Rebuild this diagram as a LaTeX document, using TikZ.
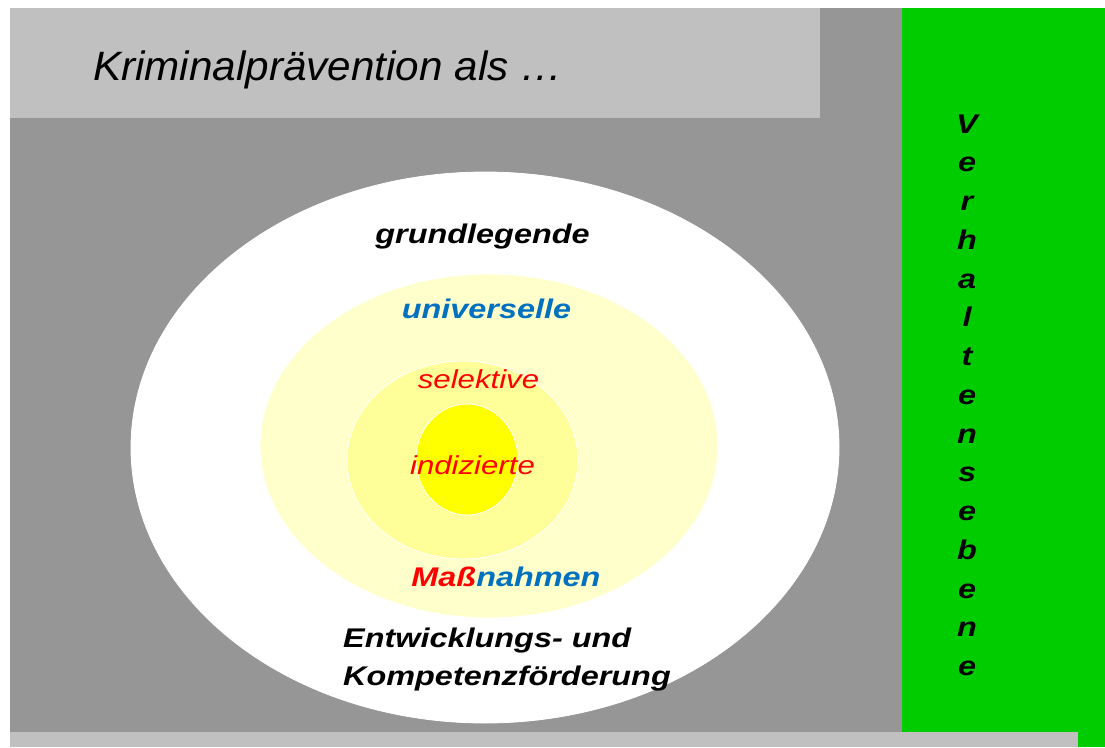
\documentclass[tikz,border=0pt]{standalone}
\usepackage{fontspec}
\setmainfont{Liberation Sans}
\newfontfamily\widesans[FakeStretch=1.2]{Liberation Sans}
\newfontfamily\titlesans[FakeStretch=1.03]{Liberation Sans}
\usepackage{xcolor}
\definecolor{bggray}{HTML}{969696}
\definecolor{titlegray}{HTML}{C0C0C0}
\definecolor{bargreen}{HTML}{00CC00}
\definecolor{paleyellow}{HTML}{FFFFCC}
\definecolor{midyellow}{HTML}{FFFF99}
\definecolor{coreyellow}{HTML}{FFFF00}
\definecolor{levelblue}{HTML}{0070C0}

\begin{document}
\begin{tikzpicture}[
    x=1pt, y=-1pt,
    ring/.style={draw=white, line width=0.8pt},
    boldlabel/.style={anchor=base, inner sep=0pt, font=\widesans\fontsize{27}{32}\selectfont\bfseries\itshape},
    thinlabel/.style={anchor=base, inner sep=0pt, text=red, font=\widesans\fontsize{26}{31}\selectfont\itshape},
    vletter/.style={anchor=base, inner sep=0pt, font=\widesans\fontsize{27}{32}\selectfont\bfseries\itshape}
]
\useasboundingbox (0,0) rectangle (1105,747);

% Background panels
\fill[bggray] (10,8) rectangle (902,732);
\fill[bargreen] (902,8) rectangle (1105,747);
\fill[titlegray] (10,8) rectangle (820,118);
\fill[titlegray] (10,732) rectangle (1078,747);

% Title
\node[anchor=base west, inner sep=0pt, font=\titlesans\fontsize{41}{48}\selectfont\itshape] (title) at (93,80) {Kriminalprävention als …};

% Nested levels
\filldraw[ring, fill=white] (485,447.5) ellipse [x radius=354pt, y radius=275.5pt];
\filldraw[ring, fill=paleyellow] (489,446) ellipse [x radius=229pt, y radius=172pt];
\filldraw[ring, fill=midyellow] (462.5,460) ellipse [x radius=115.5pt, y radius=99pt];
\filldraw[ring, fill=coreyellow] (467,459.5) ellipse [x radius=51pt, y radius=55.5pt];

% Level labels
\node[boldlabel] (grund) at (482.5,243) {grundlegende};
\node[boldlabel, text=levelblue] (univ) at (486.5,318) {universelle};
\node[thinlabel] (selekt) at (478.5,388) {selektive};
\node[thinlabel] (indiz) at (472.5,474) {indizierte};
\node[boldlabel] (mass) at (506,586) {\textcolor{red}{Maß}\textcolor{levelblue}{nahmen}};
\node[boldlabel, anchor=base west] (entw) at (343,647) {Entwicklungs- und};
\node[boldlabel, anchor=base west] (komp) at ([yshift=-38pt]entw.base west) {Kompetenzförderung};

% Vertical caption
\foreach \ch [count=\i from 0] in {V,e,r,h,a,l,t,e,n,s,e,b,e,n,e}
    \node[vletter] (verh\i) at (967,{133+38.75*\i}) {\ch};
\end{tikzpicture}
\end{document}
